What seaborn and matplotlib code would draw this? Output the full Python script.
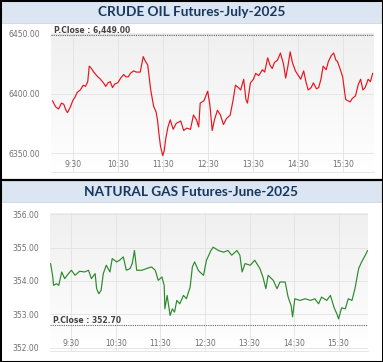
import numpy as np
import pandas as pd
import matplotlib
matplotlib.use("Agg")
import matplotlib.pyplot as plt
from matplotlib.patches import Rectangle
from matplotlib.lines import Line2D
import seaborn as sns

# crude oil futures, intraday (time, price)
crude_times = [
    "9:02", "9:06", "9:10", "9:14", "9:17", "9:20", "9:22", "9:26", "9:29", "9:32",
    "9:35", "9:39", "9:43", "9:46", "9:49", "9:51", "9:54", "9:57", "10:01", "10:06",
    "10:10", "10:13", "10:16", "10:19", "10:22", "10:25", "10:29", "10:33", "10:37", "10:40",
    "10:43", "10:46", "10:50", "10:54", "10:59", "11:03", "11:06", "11:09", "11:13", "11:17",
    "11:20", "11:22", "11:24", "11:26", "11:29", "11:31", "11:33", "11:36", "11:39", "11:43",
    "11:47", "11:53", "11:57", "12:01", "12:06", "12:10", "12:14", "12:17", "12:19", "12:24",
    "12:29", "12:32", "12:35", "12:38", "12:42", "12:46", "12:50", "12:54", "12:59", "13:03",
    "13:06", "13:10", "13:13", "13:17", "13:20", "13:22", "13:26", "13:30", "13:33", "13:37",
    "13:42", "13:45", "13:49", "13:52", "13:55", "13:58", "14:02", "14:06", "14:10", "14:13",
    "14:16", "14:19", "14:22", "14:26", "14:30", "14:33", "14:37", "14:40", "14:43", "14:47",
    "14:50", "14:54", "14:57", "15:00", "15:03", "15:07", "15:10", "15:14", "15:17", "15:20",
    "15:22", "15:26", "15:29", "15:33", "15:36", "15:39", "15:42", "15:46", "15:50", "15:53",
    "15:56", "15:59", "16:03", "16:06", "16:09",
]
crude_prices = [
    6394, 6389, 6387, 6392, 6391, 6386, 6384, 6389, 6394, 6397,
    6401, 6403, 6407, 6406, 6410, 6423, 6421, 6418, 6415, 6412,
    6409, 6406, 6409, 6410, 6405, 6408, 6409, 6413, 6416, 6414,
    6414, 6417, 6419, 6418, 6418, 6431, 6427, 6424, 6403, 6389,
    6385, 6378, 6366, 6356, 6348, 6352, 6362, 6372, 6378, 6370,
    6375, 6377, 6369, 6371, 6370, 6382, 6378, 6372, 6392, 6394,
    6402, 6390, 6369, 6378, 6386, 6382, 6374, 6379, 6382, 6395,
    6407, 6405, 6403, 6412, 6395, 6392, 6409, 6412, 6417, 6415,
    6420, 6418, 6430, 6424, 6421, 6426, 6428, 6434, 6425, 6413,
    6423, 6435, 6426, 6419, 6415, 6412, 6419, 6410, 6403, 6405,
    6409, 6404, 6405, 6412, 6423, 6420, 6427, 6432, 6434, 6428,
    6427, 6420, 6414, 6395, 6394, 6393, 6396, 6398, 6408, 6412,
    6403, 6405, 6412, 6410, 6417,
]
crude_prev_close = 6449.00

# natural gas futures, intraday (time, price)
gas_times = [
    "9:02", "9:05", "9:06", "9:10", "9:13", "9:17", "9:21", "9:26", "9:30", "9:35",
    "9:41", "9:48", "9:53", "9:57", "10:02", "10:04", "10:07", "10:10", "10:13", "10:17",
    "10:22", "10:25", "10:31", "10:35", "10:40", "10:44", "10:49", "10:52", "10:55", "10:58",
    "11:05", "11:11", "11:18", "11:23", "11:27", "11:32", "11:35", "11:36", "11:39", "11:43",
    "11:46", "11:49", "11:52", "11:56", "12:01", "12:05", "12:10", "12:13", "12:16", "12:21",
    "12:23", "12:28", "12:32", "12:38", "12:41", "12:48", "12:55", "13:01", "13:06", "13:13",
    "13:17", "13:20", "13:24", "13:31", "13:37", "13:44", "13:48", "13:52", "13:55", "14:02",
    "14:07", "14:11", "14:18", "14:22", "14:26", "14:28", "14:31", "14:38", "14:45", "14:52",
    "14:58", "15:03", "15:07", "15:14", "15:19", "15:24", "15:28", "15:30", "15:34", "15:39",
    "15:43", "15:48", "15:52", "15:57", "16:01", "16:06", "16:09",
]
gas_prices = [
    354.52, 354.12, 353.87, 353.92, 353.87, 354.27, 354.07, 354.22, 354.32, 354.17,
    354.29, 354.27, 354.32, 354.07, 354.22, 353.77, 353.62, 353.72, 354.22, 354.47,
    354.27, 354.67, 354.57, 354.62, 354.72, 354.32, 354.37, 354.52, 354.91, 354.32,
    354.32, 354.37, 354.42, 354.32, 354.02, 354.12, 353.87, 353.17, 353.57, 352.97,
    353.17, 353.07, 353.42, 353.32, 353.57, 353.47, 353.82, 354.42, 354.57, 354.32,
    354.27, 354.17, 354.62, 354.91, 355.01, 354.91, 354.86, 354.91, 354.77, 354.91,
    354.77, 354.27, 354.52, 354.47, 354.62, 354.37, 354.12, 353.77, 354.17, 354.02,
    353.77, 353.97, 353.97, 353.52, 353.27, 352.93, 353.47, 353.42, 353.47, 353.42,
    353.47, 353.32, 353.52, 353.42, 353.57, 353.20, 353.00, 352.87, 353.20, 353.17,
    353.47, 353.42, 353.77, 354.37, 354.57, 354.77, 354.91,
]
gas_prev_close = 352.70

x_tick_labels = ["9:30", "10:30", "11:30", "12:30", "13:30", "14:30", "15:30"]
crude_yticks = [6350, 6400, 6450]
gas_yticks = [352, 353, 354, 355, 356]

titles = ["CRUDE OIL Futures-July-2025", "NATURAL GAS Futures-June-2025"]


def to_hours(labels):
    t = pd.to_datetime(labels, format="%H:%M")
    return t.hour + t.minute / 60.0


sns.set_style("white")
plt.rcParams["font.family"] = ["DejaVu Sans"]

fig = plt.figure(figsize=(3.83, 3.62), dpi=100)
W, H = 383.0, 362.0


def fx(px):
    return px / W


def fy(py):
    return 1 - py / H


# title bars
for top, bot, title in [(0, 23, titles[0]), (181, 202, titles[1])]:
    fig.patches.append(Rectangle((0, fy(bot)), 1, (bot - top) / H, transform=fig.transFigure,
                                 facecolor="#dce6f2", edgecolor="none", zorder=0))
    fig.add_artist(Line2D([0, 1], [fy(bot), fy(bot)], color="#c9d5e3", lw=0.6))
    fig.text(0.5, fy((top + bot) / 2 + 0.5), title, ha="center", va="center",
             fontsize=9.8, fontweight="bold", color="#17375e", family="Lato")

# separator + outer border
fig.add_artist(Line2D([0, 1], [fy(179.5), fy(179.5)], color="black", lw=1.6))
fig.patches.append(Rectangle((0, 0), 1, 1, transform=fig.transFigure, fill=False,
                             edgecolor="black", lw=2.2, zorder=5))

panels = [
    dict(box=(51, 374, 33, 172), times=crude_times, prices=crude_prices, color="#e8141c",
         ylim=(6334.2, 6450.8), xlim=(9.0, 16.18), yticks=crude_yticks,
         pclose=crude_prev_close, plabel="P.Close : 6,449.00"),
    dict(box=(50, 368, 213, 351), times=gas_times, prices=gas_prices, color="#2b8a2b",
         ylim=(351.91, 356.03), xlim=(9.02, 16.16), yticks=gas_yticks,
         pclose=gas_prev_close, plabel="P.Close : 352.70"),
]

grad = np.linspace(0.94, 1.0, 100).reshape(-1, 1)
grad = np.dstack([grad, grad, grad])

for p in panels:
    x0, x1, y0, y1 = p["box"]
    ax = fig.add_axes([fx(x0), fy(y1), (x1 - x0) / W, (y1 - y0) / H])
    ax.imshow(grad, extent=[0, 1, 0, 1], transform=ax.transAxes, aspect="auto", zorder=0)

    df = pd.DataFrame({"t": to_hours(p["times"]), "price": p["prices"]})
    sns.lineplot(data=df, x="t", y="price", ax=ax, color=p["color"], linewidth=0.85, zorder=3)

    ax.set_xlim(*p["xlim"])
    ax.set_ylim(*p["ylim"])
    ax.set_xticks(to_hours(x_tick_labels))
    ax.set_xticklabels(x_tick_labels)
    ax.set_yticks(p["yticks"])
    ax.set_yticklabels([f"{v:.2f}" for v in p["yticks"]])
    ax.set_xlabel("")
    ax.set_ylabel("")
    ax.grid(True, color="#e2e2e2", linewidth=0.6, zorder=1)
    ax.set_axisbelow(True)
    ax.tick_params(axis="x", length=0, pad=-8.5, labelsize=5.5, labelcolor="#707070")
    ax.tick_params(axis="y", length=0, pad=8, labelsize=5.5, labelcolor="#707070")
    for s in ["top", "left", "right"]:
        ax.spines[s].set_visible(False)
    ax.spines["bottom"].set_color("#e2e2e2")
    ax.spines["bottom"].set_linewidth(0.6)

    ax.axhline(p["pclose"], color="#666666", linestyle=(0, (1, 1)), linewidth=0.8, zorder=2)
    ax.text(0.008, p["pclose"], p["plabel"], transform=ax.get_yaxis_transform(),
            ha="left", va="bottom", fontsize=5.5, fontweight="bold", color="#444444", zorder=4)

fig.savefig("out.png", dpi=100)
